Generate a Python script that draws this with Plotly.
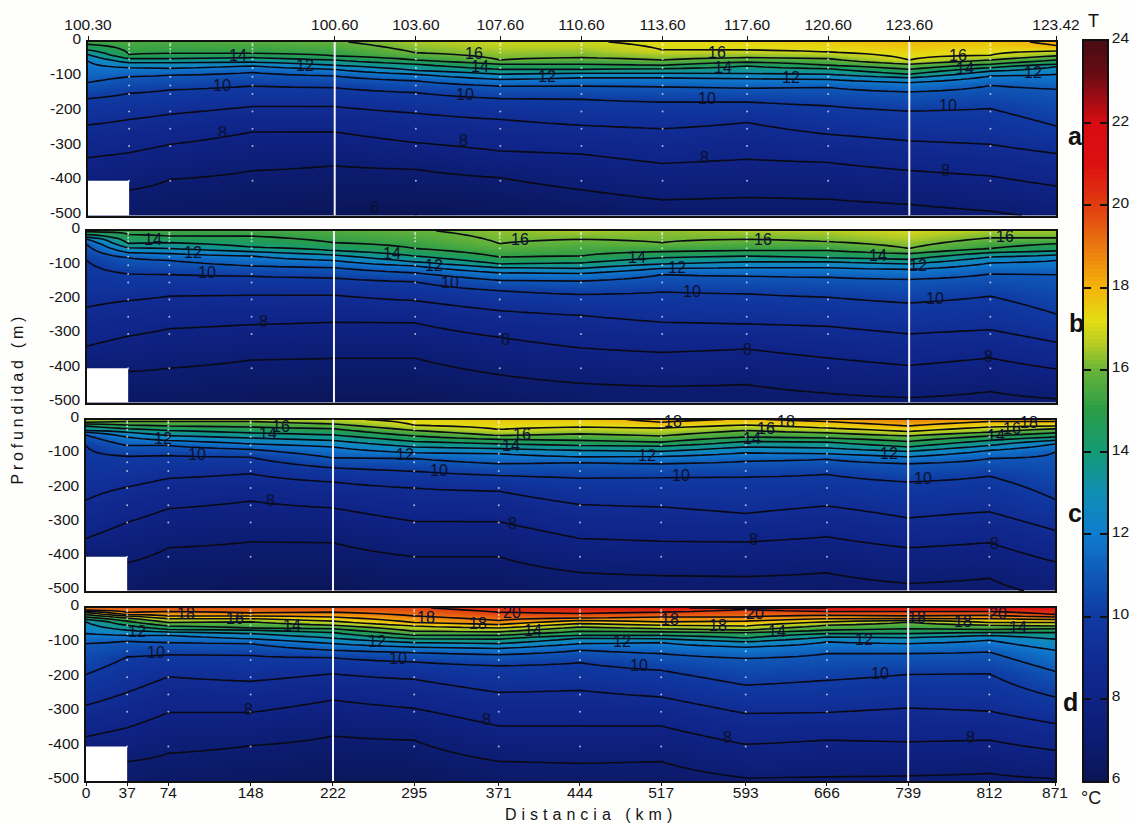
import numpy as np
import plotly.graph_objects as go

W, H = 1130, 824

STATIONS_KM = [0, 37, 74, 148, 222, 295, 371, 444, 517, 593, 666, 739, 812, 871]
TOP_TICK_KM = [0, 222, 295, 371, 444, 517, 593, 666, 739, 871]
TOP_TICK_TEXT = ["100.30", "100.60", "103.60", "107.60", "110.60", "113.60", "117.60", "120.60", "123.60", "123.42"]
BOTTOM_TICK_TEXT = [str(s) for s in STATIONS_KM]
DEPTH_TICKS = [0, -100, -200, -300, -400, -500]
DEPTH_TICK_TEXT = ["0", "-100", "-200", "-300", "-400", "-500"]
CBAR_TICKS = [6, 8, 10, 12, 14, 16, 18, 20, 22, 24]

SAMPLE_STATIONS = [37, 74, 148, 295, 371, 444, 517, 593, 666, 812]
SAMPLE_DEPTHS = [5, 10, 20, 30, 50, 75, 100, 125, 150, 200, 250, 300, 400]
WHITE_SECTIONS_KM = [222, 739]

N = None
# Surface temperature per station
SST_A = [15.3, 15.5, 15.5, 15.7, 15.9, 16.5, 16.9, 16.9, 17.2, 17.4, 17.6, 17.9, 17.7, 18.2]
SST_B = [15.0, 15.2, 15.3, 15.4, 15.6, 15.9, 16.3, 16.5, 16.3, 16.5, 16.6, 17.0, 16.5, 16.4]
SST_C = [16.4, 16.3, 16.4, 16.6, 16.8, 17.3, 17.7, 17.6, 18.3, 17.9, 18.3, 18.9, 18.4, 18.3]
SST_D = [19.2, 19.5, 19.6, 19.6, 19.7, 19.9, 20.4, 20.8, 20.9, 21.2, 21.0, 21.0, 21.0, 21.0]

# Depth (m) of each isotherm at each station
ISO_A = {
    6: [620, 600, 580, 540, 510, 497, 515, 540, 570, 560, 570, 590, 620, 650],
    7: [470, 427, 396, 371, 357, 367, 391, 426, 455, 448, 453, 468, 487, 510],
    8: [333, 319, 295, 259, 259, 290, 314, 323, 350, 338, 347, 370, 386, 415],
    9: [239, 223, 208, 186, 186, 205, 223, 240, 250, 232, 266, 285, 295, 321],
    10: [163, 148, 138, 127, 132, 146, 163, 165, 173, 173, 184, 199, 192, 242],
    11: [117, 100, 96, 88, 98, 112, 127, 127, 129, 133, 131, 144, 125, 136],
    12: [55, 74, 76, 69, 79, 93, 108, 103, 103, 106, 108, 117, 98, 93],
    13: [36, 60, 60, 58, 67, 82, 93, 90, 90, 91, 93, 103, 84, 71],
    14: [23, 48, 48, 45, 52, 64, 79, 79, 77, 69, 77, 93, 74, 64],
    15: [7, 36, 33, 33, 40, 52, 64, 64, 67, 58, 67, 79, 64, 52],
    16: [N, N, N, N, N, 31, 52, 45, 52, 45, 48, 64, 52, 40],
    17: [N, N, N, N, N, N, N, N, 23, 23, 29, 52, 38, 26],
    18: [N, N, N, N, N, N, N, N, N, N, N, N, N, 10],
}
ISO_B = {
    6: [600, 590, 570, 540, 520, 520, 560, 590, 600, 600, 620, 640, 620, 640],
    7: [403, 410, 400, 376, 371, 371, 419, 444, 453, 448, 473, 486, 468, 489],
    8: [336, 307, 285, 273, 266, 268, 310, 341, 354, 344, 370, 392, 370, 402],
    9: [222, 203, 190, 187, 187, 203, 232, 246, 266, 271, 278, 300, 288, 324],
    10: [86, 125, 127, 132, 137, 148, 174, 185, 178, 183, 193, 210, 190, 242],
    11: [39, 78, 86, 102, 107, 122, 144, 146, 127, 132, 135, 141, 125, 127],
    12: [24, 63, 66, 73, 86, 102, 122, 124, 109, 107, 107, 112, 93, 86],
    13: [18, 49, 51, 60, 70, 90, 107, 109, 96, 90, 90, 96, 76, 70],
    14: [10, 36, 34, 47, 57, 73, 96, 93, 78, 73, 78, 83, 63, 58],
    15: [2, 10, 15, 15, 34, 51, 76, 73, 60, 57, 57, 66, 51, 37],
    16: [N, N, N, N, N, N, 37, 24, 34, 24, 31, 51, 20, 20],
}
ISO_C = {
    6: [600, 590, 550, 530, 520, 560, 560, 610, 620, 620, 610, 640, 630, 680],
    7: [400, 418, 374, 357, 359, 400, 400, 446, 455, 458, 447, 478, 463, 521],
    8: [347, 300, 260, 238, 258, 297, 298, 347, 355, 357, 342, 374, 359, 415],
    9: [235, 197, 172, 158, 182, 200, 209, 248, 255, 274, 252, 287, 269, 323],
    10: [76, 107, 105, 110, 141, 151, 163, 171, 170, 168, 160, 182, 165, 233],
    11: [45, 76, 76, 87, 112, 114, 129, 126, 129, 122, 116, 129, 114, 95],
    12: [37, 51, 61, 71, 80, 97, 100, 109, 108, 97, 100, 109, 90, 71],
    13: [32, 37, 47, 54, 61, 80, 85, 90, 93, 80, 83, 93, 76, 61],
    14: [19, 27, 32, 39, 45, 64, 71, 76, 78, 64, 66, 80, 61, 51],
    15: [13, 16, 19, 22, 27, 48, 58, 61, 66, 51, 54, 64, 48, 39],
    16: [8, 6, 6, 6, 13, 32, 47, 42, 48, 32, 39, 48, 37, 27],
    17: [N, N, N, N, N, 17, 29, 22, 25, 16, 25, 35, 22, 19],
    18: [N, N, N, N, N, N, N, N, 8, N, 6, 19, 6, 6],
}
ISO_D = {
    6: [640, 620, 600, 570, 540, 550, 600, 610, 600, 650, 650, 650, 640, 650],
    7: [406, 444, 420, 398, 370, 382, 443, 449, 444, 491, 488, 485, 478, 493],
    8: [372, 346, 302, 302, 266, 290, 341, 341, 341, 394, 382, 387, 382, 411],
    9: [281, 244, 199, 212, 190, 206, 244, 238, 257, 305, 302, 289, 298, 334],
    10: [192, 141, 135, 137, 144, 156, 167, 158, 180, 223, 209, 192, 190, 257],
    11: [103, 96, 100, 103, 122, 129, 135, 122, 132, 146, 132, 132, 127, 183],
    12: [74, 79, 79, 89, 103, 113, 117, 103, 100, 113, 98, 103, 93, 122],
    13: [40, 64, 69, 74, 87, 100, 103, 87, 89, 98, 84, 86, 79, 90],
    14: [33, 50, 62, 64, 71, 89, 90, 79, 79, 87, 74, 74, 71, 71],
    15: [26, 38, 52, 58, 60, 79, 79, 67, 69, 71, 64, 60, 62, 60],
    16: [19, 29, 42, 40, 50, 67, 69, 55, 60, 64, 50, 41, 50, 52],
    17: [13, 23, 31, 31, 38, 52, 58, 45, 50, 52, 40, 36, 42, 42],
    18: [10, 19, 23, 23, 26, 42, 48, 36, 40, 38, 31, 31, 31, 33],
    19: [7, 13, 10, 14, 12, 23, 36, 29, 26, 26, 21, 23, 21, 26],
    20: [N, N, N, N, N, N, 12, 16, 12, 4, 10, 10, 10, 19],
}

# Contour labels: (km, depth, text)
LABELS_A = [(135, 40, "14"), (195, 69, "12"), (121, 124, "10"), (121, 260, "8"), (347, 33, "16"), (353, 72, "14"),
            (413, 98, "12"), (339, 150, "10"), (338, 283, "8"), (258, 477, "6"), (566, 31, "16"), (571, 74, "14"),
            (633, 101, "12"), (557, 162, "10"), (555, 332, "8"), (783, 38, "16"), (789, 75, "14"), (850, 87, "12"),
            (774, 182, "10"), (772, 370, "8")]
LABELS_B = [(59, 26, "14"), (95, 64, "12"), (108, 120, "10"), (159, 263, "8"), (274, 67, "14"), (312, 102, "12"),
            (326, 149, "10"), (389, 26, "16"), (376, 315, "8"), (494, 76, "14"), (530, 105, "12"), (544, 175, "10"),
            (608, 26, "16"), (594, 345, "8"), (711, 70, "14"), (747, 102, "12"), (762, 196, "10"), (825, 15, "16"),
            (810, 365, "8")]
LABELS_C = [(69, 55, "12"), (164, 41, "14"), (175, 20, "16"), (100, 102, "10"), (166, 235, "8"), (287, 102, "12"),
            (317, 148, "10"), (382, 75, "14"), (392, 44, "16"), (383, 304, "8"), (504, 104, "12"), (535, 162, "10"),
            (528, 6, "18"), (611, 26, "16"), (629, 6, "18"), (599, 55, "14"), (600, 351, "8"), (722, 99, "12"),
            (752, 171, "10"), (818, 46, "14"), (832, 26, "16"), (848, 9, "18"), (817, 362, "8")]
LABELS_D = [(46, 69, "12"), (63, 130, "10"), (90, 17, "18"), (134, 29, "16"), (185, 52, "14"), (146, 292, "8"),
            (262, 98, "12"), (280, 147, "10"), (306, 26, "18"), (352, 46, "18"), (383, 12, "20"), (402, 64, "14"),
            (360, 321, "8"), (482, 98, "12"), (497, 165, "10"), (525, 32, "18"), (568, 52, "18"), (601, 17, "20"),
            (621, 69, "14"), (577, 373, "8"), (699, 90, "12"), (714, 188, "10"), (747, 26, "18"), (788, 40, "18"),
            (820, 17, "20"), (838, 55, "14"), (795, 373, "8")]

COLOR_T = [6, 7, 8, 9, 10, 11, 12, 13, 14, 15, 16, 16.6, 17.2, 18, 19, 20, 21, 22, 22.6, 23.2, 24]
COLOR_HEX = ["#0a1555", "#0c1c72", "#0f2386", "#102c94", "#0f3aa2", "#0f58b8", "#0f7ccf", "#108eb4", "#149a74",
             "#2a9c48", "#68b438", "#b4cc24", "#e4dc14", "#f4b408", "#ea7810", "#e03c10", "#dc1010", "#d80c10",
             "#a00c14", "#680c14", "#480c12"]

FONT = "Liberation Sans"
COLORSCALE = [[(t - 6) / 18, c] for t, c in zip(COLOR_T, COLOR_HEX)]

PANELS = [
    dict(name="a", sst=SST_A, iso=ISO_A, labels=LABELS_A, box=(88, 1056, 42, 215.5), letter=(1075, 136)),
    dict(name="b", sst=SST_B, iso=ISO_B, labels=LABELS_B, box=(87, 1056, 231, 402.5), letter=(1076, 323)),
    dict(name="c", sst=SST_C, iso=ISO_C, labels=LABELS_C, box=(86, 1055, 419.5, 591), letter=(1075, 513)),
    dict(name="d", sst=SST_D, iso=ISO_D, labels=LABELS_D, box=(86, 1055, 608, 781), letter=(1070, 702)),
]

depth_grid = np.arange(0, 502, 2.0)


def field(sst, iso):
    z = np.zeros((len(depth_grid), len(STATIONS_KM)))
    for j in range(len(STATIONS_KM)):
        pairs = [(0.0, sst[j])] + [(v[j], t) for t, v in iso.items() if v[j] is not None]
        pairs.sort()
        z[:, j] = np.interp(depth_grid, [p[0] for p in pairs], [p[1] for p in pairs])
    return z


fig = go.Figure()
annotations, shapes = [], []
axis_line = dict(showline=True, mirror=True, linecolor="#111111", linewidth=1.5, showgrid=False, zeroline=False)
tick_font = dict(family=FONT, size=15.5, color="#151515")

for i, p in enumerate(PANELS, start=1):
    xa, ya = ("x", "y") if i == 1 else (f"x{i}", f"y{i}")
    xl, xr, yt, yb = p["box"]
    z = field(p["sst"], p["iso"])
    fig.add_trace(go.Contour(
        x=STATIONS_KM, y=-depth_grid, z=z, xaxis=xa, yaxis=ya, colorscale=COLORSCALE, zmin=6, zmax=24,
        showscale=False, hoverinfo="skip",
        contours=dict(start=6, end=24, size=1, coloring="heatmap", showlines=True),
        line=dict(color="#0a0a14", width=1.6, smoothing=0),
    ))
    sx = [s for s in SAMPLE_STATIONS for _ in SAMPLE_DEPTHS]
    sy = [-d for _ in SAMPLE_STATIONS for d in SAMPLE_DEPTHS]
    fig.add_trace(go.Scatter(x=sx, y=sy, xaxis=xa, yaxis=ya, mode="markers", hoverinfo="skip", showlegend=False,
                             marker=dict(color="rgba(255,255,255,0.65)", size=2)))
    xkw = dict(domain=[xl / W, xr / W], range=[0, 871], **axis_line)
    if i == 1:
        xkw.update(side="top", tickvals=TOP_TICK_KM, ticktext=TOP_TICK_TEXT, ticks="outside", ticklen=4,
                   tickcolor="#111111", tickfont=tick_font)
    elif i == 4:
        xkw.update(side="bottom", tickvals=STATIONS_KM, ticktext=BOTTOM_TICK_TEXT, ticks="outside", ticklen=3,
                   tickcolor="#111111", tickfont=tick_font, ticklabelstandoff=-6)
    else:
        xkw.update(showticklabels=False, ticks="")
    ykw = dict(domain=[1 - yb / H, 1 - yt / H], range=[-500, 0], tickvals=DEPTH_TICKS, ticktext=DEPTH_TICK_TEXT,
               ticks="", tickfont=tick_font, anchor=xa, ticklabelstandoff=2, ticklabelshift=-3, **axis_line)
    xkw["anchor"] = ya
    fig.update_layout({("xaxis" if i == 1 else f"xaxis{i}"): xkw, ("yaxis" if i == 1 else f"yaxis{i}"): ykw})

    for km, d, txt in p["labels"]:
        annotations.append(dict(x=km, y=-d, xref=xa, yref=ya, text=txt, showarrow=False,
                                font=dict(family=FONT, size=16, color="#0b1030")))
    for km in WHITE_SECTIONS_KM:
        shapes.append(dict(type="line", xref=xa, yref=ya, x0=km, x1=km, y0=-500, y1=0,
                           line=dict(color="#f4f2fa", width=2)))
    shapes.append(dict(type="rect", xref=xa, yref=ya, x0=0, x1=37, y0=-500, y1=-400,
                       fillcolor="#ffffff", line=dict(width=0)))
    annotations.append(dict(x=p["letter"][0] / W, y=1 - p["letter"][1] / H, xref="paper", yref="paper",
                            xanchor="center", yanchor="middle", text=p["name"], showarrow=False,
                            font=dict(family=FONT, size=25, color="#111111", weight="bold")))

# Colour bar as its own axes
levels = np.arange(6, 24.05, 0.1)
fig.add_trace(go.Heatmap(x=[0, 1], y=levels, z=[[v, v] for v in levels], xaxis="x5", yaxis="y5",
                         colorscale=COLORSCALE, zmin=6, zmax=24, showscale=False, hoverinfo="skip"))
fig.update_layout(
    xaxis5=dict(domain=[1084 / W, 1107 / W], range=[0, 1], showticklabels=False, ticks="", anchor="y5",
                showline=True, mirror=True, linecolor="#111111", linewidth=1.5, showgrid=False, zeroline=False),
    yaxis5=dict(domain=[1 - 781 / H, 1 - 41 / H], range=[6, 24], side="right", anchor="x5", tickvals=CBAR_TICKS,
                ticks="inside", ticklen=7, tickcolor="#111111", tickwidth=1.5, mirror="ticks", showline=True,
                linecolor="#111111", linewidth=1.5, showgrid=False, zeroline=False, ticklabelshift=-3,
                tickfont=tick_font),
)

for txt, px, py, size, angle in [("T", 1093, 21, 18, 0), ("°C", 1091, 798, 18, 0),
                                 ("Distancia (km)", 591, 814, 16, 0), ("Profundidad (m)", 17, 399, 16, -90)]:
    annotations.append(dict(x=px / W, y=1 - py / H, xref="paper", yref="paper", xanchor="center", yanchor="middle",
                            text=txt, showarrow=False, textangle=angle,
                            font=dict(family=FONT, size=size, color="#151515")))

fig.update_layout(width=W, height=H, margin=dict(l=0, r=0, t=0, b=0, autoexpand=False), paper_bgcolor="#fefefc",
                  plot_bgcolor="#ffffff", showlegend=False, annotations=annotations, shapes=shapes)

POST = """
document.body.style.margin='0';
document.querySelectorAll('text').forEach(function(t){
  if(t.textContent==='Distancia (km)'){t.style.letterSpacing='5px';}
  if(t.textContent==='Profundidad (m)'){t.style.letterSpacing='3.8px';}
});
"""
fig.write_html("out.html", post_script=POST, config={"displayModeBar": False})
